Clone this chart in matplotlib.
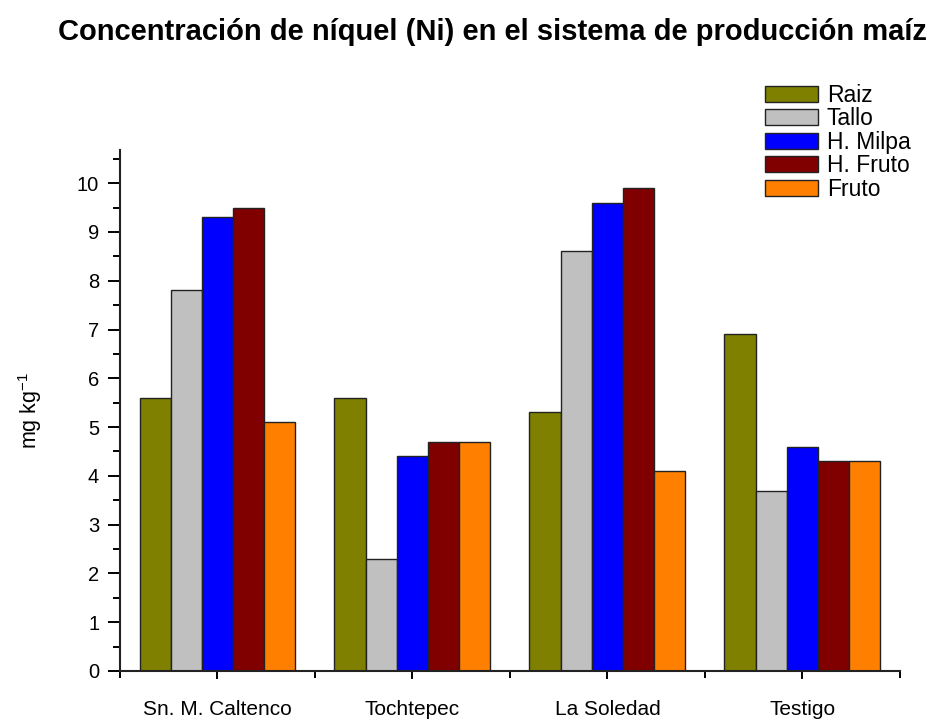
import matplotlib
matplotlib.use("Agg")
import matplotlib.pyplot as plt
import numpy as np
from matplotlib.ticker import FixedLocator

plt.rcParams['font.family'] = ['Liberation Sans', 'DejaVu Sans']
plt.rcParams['mathtext.fontset'] = 'custom'
plt.rcParams['mathtext.rm'] = 'Liberation Sans'

categories = ["Sn. M. Caltenco", "Tochtepec", "La Soledad", "Testigo"]
series = ["Raiz", "Tallo", "H. Milpa", "H. Fruto", "Fruto"]
raiz = [5.6, 5.6, 5.3, 6.9]
tallo = [7.8, 2.3, 8.6, 3.7]
h_milpa = [9.3, 4.4, 9.6, 4.6]
h_fruto = [9.5, 4.7, 9.9, 4.3]
fruto = [5.1, 4.7, 4.1, 4.3]
values = [raiz, tallo, h_milpa, h_fruto, fruto]
colors = ["#808000", "#C0C0C0", "#0000FF", "#800000", "#FF8000"]

fig = plt.figure(figsize=(9.33, 7.21), dpi=100)
ax = fig.add_axes([120/933, 1-671/721, 780/933, (671-150)/721])

n = len(series)
w = 0.16
centers = np.arange(len(categories)) + 0.5
for i, (name, vals, c) in enumerate(zip(series, values, colors)):
    x = centers + (i - (n-1)/2) * w
    ax.bar(x, vals, width=w, color=c, edgecolor="#222222", linewidth=1.0, label=name, zorder=2)

ax.set_xlim(0, 4)
ax.set_ylim(0, 10.68)
ax.set_xticks(centers)
ax.set_xticklabels(categories, fontsize=15)
ax.xaxis.set_minor_locator(FixedLocator([0, 1, 2, 3, 4]))
ax.set_yticks(range(0, 11))
ax.yaxis.set_minor_locator(FixedLocator(np.arange(0.5, 10.6, 1.0)))
ax.tick_params(axis='y', labelsize=14.5, direction='out', length=9, width=1.4, pad=6)
ax.tick_params(axis='y', which='minor', direction='out', length=5, width=1.4)
ax.tick_params(axis='x', direction='out', length=6, width=1.4, pad=15)
ax.tick_params(axis='x', which='minor', direction='out', length=5, width=1.4)
for s in ['top', 'right']:
    ax.spines[s].set_visible(False)
for s in ['left', 'bottom']:
    ax.spines[s].set_linewidth(1.5)
    ax.spines[s].set_color('#222222')

ax.set_ylabel(r"mg kg$^{\mathregular{-1}}$", fontsize=15.5, labelpad=24)

fig.text(492/933, 1-32/721, "Concentración de níquel (Ni) en el sistema de producción maíz",
         ha='center', va='center', fontsize=21, fontweight='bold')

fig.legend(loc='upper left', bbox_to_anchor=(765/933, 1-84/721), frameon=False,
           fontsize=16.5, handlelength=2.3, handleheight=0.7, labelspacing=0.02,
           handletextpad=0.4, borderpad=0, borderaxespad=0)

fig.savefig("out.png", dpi=100)
